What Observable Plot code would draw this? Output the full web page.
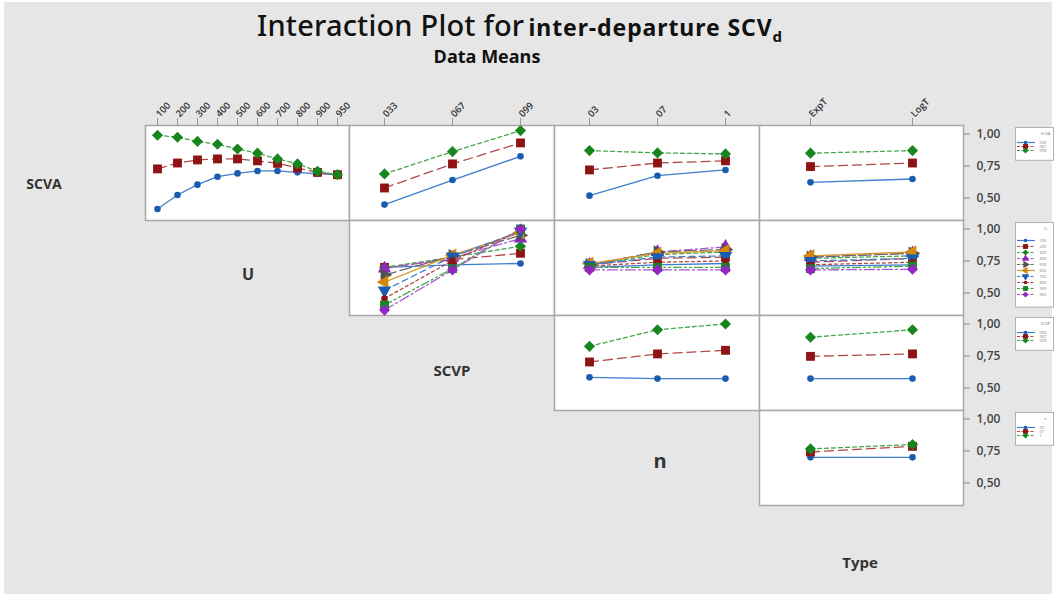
<!DOCTYPE html>
<html><head><meta charset="utf-8">
<script src="https://cdn.jsdelivr.net/npm/d3@7"></script>
<script src="https://cdn.jsdelivr.net/npm/@observablehq/plot@0.6"></script>
<style>
body{margin:0;background:#fff;}
#root{position:relative;width:1056px;height:598px;overflow:hidden;font-family:"Open Sans",sans-serif;}
#bg{position:absolute;left:4px;top:2px;width:1048px;height:592px;background:#e6e6e6;}
.abs{position:absolute;}
.lab{position:absolute;font-weight:700;color:#333;transform:translate(-50%,-50%);white-space:nowrap;}
</style></head><body>
<div id="root"><div id="bg"></div>
<div class="abs" style="left:257px;top:5px;white-space:nowrap;color:#111;font-family:'Noto Sans',sans-serif;">
<span style="font-size:29px;font-weight:500;letter-spacing:0.2px;">Interaction Plot for</span>
<span style="font-size:23px;font-weight:700;letter-spacing:0.9px;">inter-departure SCV<sub style="font-size:15px;">d</sub></span></div>
<div class="lab" style="left:487px;top:56px;font-size:18px;color:#111;">Data Means</div>
<div class="lab" style="left:44px;top:183px;font-size:14px;">SCVA</div>
<div class="lab" style="left:248px;top:274px;font-size:16px;">U</div>
<div class="lab" style="left:452px;top:370px;font-size:15px;">SCVP</div>
<div class="lab" style="left:660px;top:460px;font-size:20px;">n</div>
<div class="lab" style="left:860px;top:562px;font-size:15px;">Type</div>
</div>
<script>
// ---- factor levels (tick labels) ----
const uLevels = ["100","200","300","400","500","600","700","800","900","950"];
const scvaLevels = ["033","067","099"];
const scvpLevels = ["033","067","099"];
const nLevels = ["03","07","1"];
const typeLevels = ["ExpT","LogT"];

// ---- row 1: trace SCVA ----
const scvaByU = {
  "033": [0.414,0.523,0.604,0.666,0.692,0.711,0.711,0.700,0.688,0.682],
  "067": [0.727,0.773,0.797,0.805,0.805,0.790,0.770,0.734,0.700,0.682],
  "099": [0.990,0.974,0.942,0.920,0.883,0.850,0.805,0.766,0.708,0.682]
};
const scvaBySCVP = {"033":[0.448,0.640,0.825],"067":[0.578,0.766,0.930],"099":[0.688,0.862,1.026]};
const scvaByN = {"033":[0.518,0.674,0.719],"067":[0.719,0.773,0.790],"099":[0.870,0.852,0.844]};
const scvaByType = {"033":[0.622,0.648],"067":[0.745,0.773],"099":[0.850,0.870]};

// ---- row 2: trace U ----
const uBySCVP = {
  "100":[0.700,0.720,0.730],"200":[0.700,0.760,0.810],"300":[0.700,0.780,0.865],
  "400":[0.690,0.775,0.925],"500":[0.640,0.790,0.950],"600":[0.585,0.795,0.970],
  "700":[0.520,0.786,0.980],"800":[0.457,0.753,0.990],"900":[0.405,0.690,1.000],
  "950":[0.366,0.680,1.000]
};
const uByN = {
  "100":[0.70,0.72,0.73],"200":[0.72,0.77,0.78],"300":[0.72,0.80,0.82],
  "400":[0.72,0.82,0.86],"500":[0.72,0.82,0.84],"600":[0.73,0.81,0.83],
  "700":[0.72,0.78,0.79],"800":[0.71,0.74,0.75],"900":[0.70,0.70,0.70],
  "950":[0.68,0.68,0.68]
};
const uByType = {
  "100":[0.71,0.72],"200":[0.74,0.77],"300":[0.77,0.79],"400":[0.78,0.81],
  "500":[0.78,0.81],"600":[0.79,0.82],"700":[0.75,0.77],"800":[0.72,0.74],
  "900":[0.69,0.71],"950":[0.68,0.685]
};

// ---- row 3: trace SCVP ----
const scvpByN = {"033":[0.583,0.573,0.573],"067":[0.703,0.766,0.794],"099":[0.825,0.955,1.000]};
const scvpByType = {"033":[0.573,0.573],"067":[0.747,0.766],"099":[0.896,0.955]};

// ---- row 4: trace n ----
const nByType = {"03":[0.700,0.700],"07":[0.742,0.786],"1":[0.766,0.800]};

// ---- series styles ----
const markColors = ["#1a5cb0","#8e1414","#17861f","#9226c2","#505050","#d4890c","#1a5cb0","#8e1414","#17861f","#9226c2"];
const lineColors = ["#3f7fcf","#b24848","#45a84a","#a659d0","#6a6a6a","#d99a30","#3f7fcf","#b24848","#45a84a","#a659d0"];
const symbols = ["circle","square","diamond2","triangle","triangle","triangle","triangle","circle","square","diamond2"];
const rotates = [0,0,0,0,90,270,180,0,0,0];
const sizes = [3.3,5,5,5,5,5,5,3.3,5,5];
const dashes = [null,"9,5","4,3","8,3,2,3","12,4",null,"6,4","3,3","8,3,2,3,2,3","10,3,2,3"];

const colX = [145,349,554,759];
const colW = [204,205,205,204];
const rowY = [125,220,315,410];
const rowH = 95;
const yDomain = [0.324,1.066];
const root = document.getElementById("root");

function panel(row, col, xLevels, traceLevels, values) {
  const marks = [Plot.frame({fill:"white", stroke:"#a8a8a8", strokeWidth:1.5})];
  traceLevels.forEach((t,i) => {
    const d = xLevels.map((x,j) => ({x, y: values[t][j]}));
    marks.push(Plot.line(d, {x:"x", y:"y", stroke:lineColors[i], strokeWidth:1.3, strokeDasharray:dashes[i]}));
  });
  traceLevels.forEach((t,i) => {
    const d = xLevels.map((x,j) => ({x, y: values[t][j]}));
    marks.push(Plot.dot(d, {x:"x", y:"y", symbol:symbols[i], r:sizes[i], fill:markColors[i], stroke:"none", rotate:rotates[i]}));
  });
  const mt = row === 0 ? 40 : 0;
  const mr = col === 3 ? 60 : 0;
  if (row === 0) marks.push(Plot.axisX({anchor:"top", tickRotate:-45, tickSize:8, tickPadding:2, fontSize:9.5, fontWeight:600, stroke:"#999", fill:"#333", label:null}));
  if (col === 3) marks.push(Plot.axisY({anchor:"right", ticks:[0.5,0.75,1], tickFormat:d => d.toFixed(2).replace(".", ","), tickSize:6, tickPadding:7, fontSize:12, fontWeight:600, stroke:"#888", fill:"#444", label:null}));
  const svg = Plot.plot({
    width: colW[col] + mr, height: rowH + mt,
    marginTop: mt, marginRight: mr, marginLeft: 0, marginBottom: 0,
    style: "background:transparent;overflow:visible;font-family:'Open Sans',sans-serif;",
    x: {type:"point", domain:xLevels, padding:0.5, axis:null},
    y: {domain:yDomain, axis:null},
    marks
  });
  svg.style.position = "absolute";
  svg.style.left = colX[col] + "px";
  svg.style.top = (rowY[row] - mt) + "px";
  root.appendChild(svg);
}

panel(0,0,uLevels,scvaLevels,scvaByU);
panel(0,1,scvpLevels,scvaLevels,scvaBySCVP);
panel(0,2,nLevels,scvaLevels,scvaByN);
panel(0,3,typeLevels,scvaLevels,scvaByType);
panel(1,1,scvpLevels,uLevels,uBySCVP);
panel(1,2,nLevels,uLevels,uByN);
panel(1,3,typeLevels,uLevels,uByType);
panel(2,2,nLevels,scvpLevels,scvpByN);
panel(2,3,typeLevels,scvpLevels,scvpByType);
panel(3,3,typeLevels,nLevels,nByType);

function legend(row, title, levels) {
  const step = 7.4;
  const h = 12 + (levels.length - 1) * step + 6;
  const marks = [Plot.frame({fill:"white", stroke:"#b0b0b0"})];
  levels.forEach((l,i) => {
    marks.push(Plot.ruleY([l], {x1:2, x2:20, stroke:lineColors[i], strokeWidth:1.2, strokeDasharray:dashes[i] ? "3,1.5" : null}));
    marks.push(Plot.dot([l], {x:10, y:d => d, symbol:symbols[i], r:sizes[i]*0.55, fill:markColors[i], stroke:"none", rotate:rotates[i]}));
  });
  marks.push(Plot.text(levels, {x:24, y:d => d, text:d => d, fontSize:4, fill:"#777", textAnchor:"start"}));
  marks.push(Plot.text([title], {x:30, frameAnchor:"top", dy:5, text:d => d, fontSize:4, fill:"#777"}));
  const svg = Plot.plot({
    width: 38, height: h, margin: 0,
    style: "background:transparent;overflow:visible;font-family:'Open Sans',sans-serif;",
    x: {domain:[0,38], range:[0,38], axis:null},
    y: {type:"point", domain:levels, range:[12, 12 + (levels.length - 1) * step], axis:null},
    marks
  });
  svg.style.position = "absolute";
  svg.style.left = "1015px";
  svg.style.top = (rowY[row] + 2) + "px";
  root.appendChild(svg);
}
legend(0, "SCVA", scvaLevels);
legend(1, "U", uLevels);
legend(2, "SCVP", scvpLevels);
legend(3, "n", nLevels);
</script>
</body></html>
